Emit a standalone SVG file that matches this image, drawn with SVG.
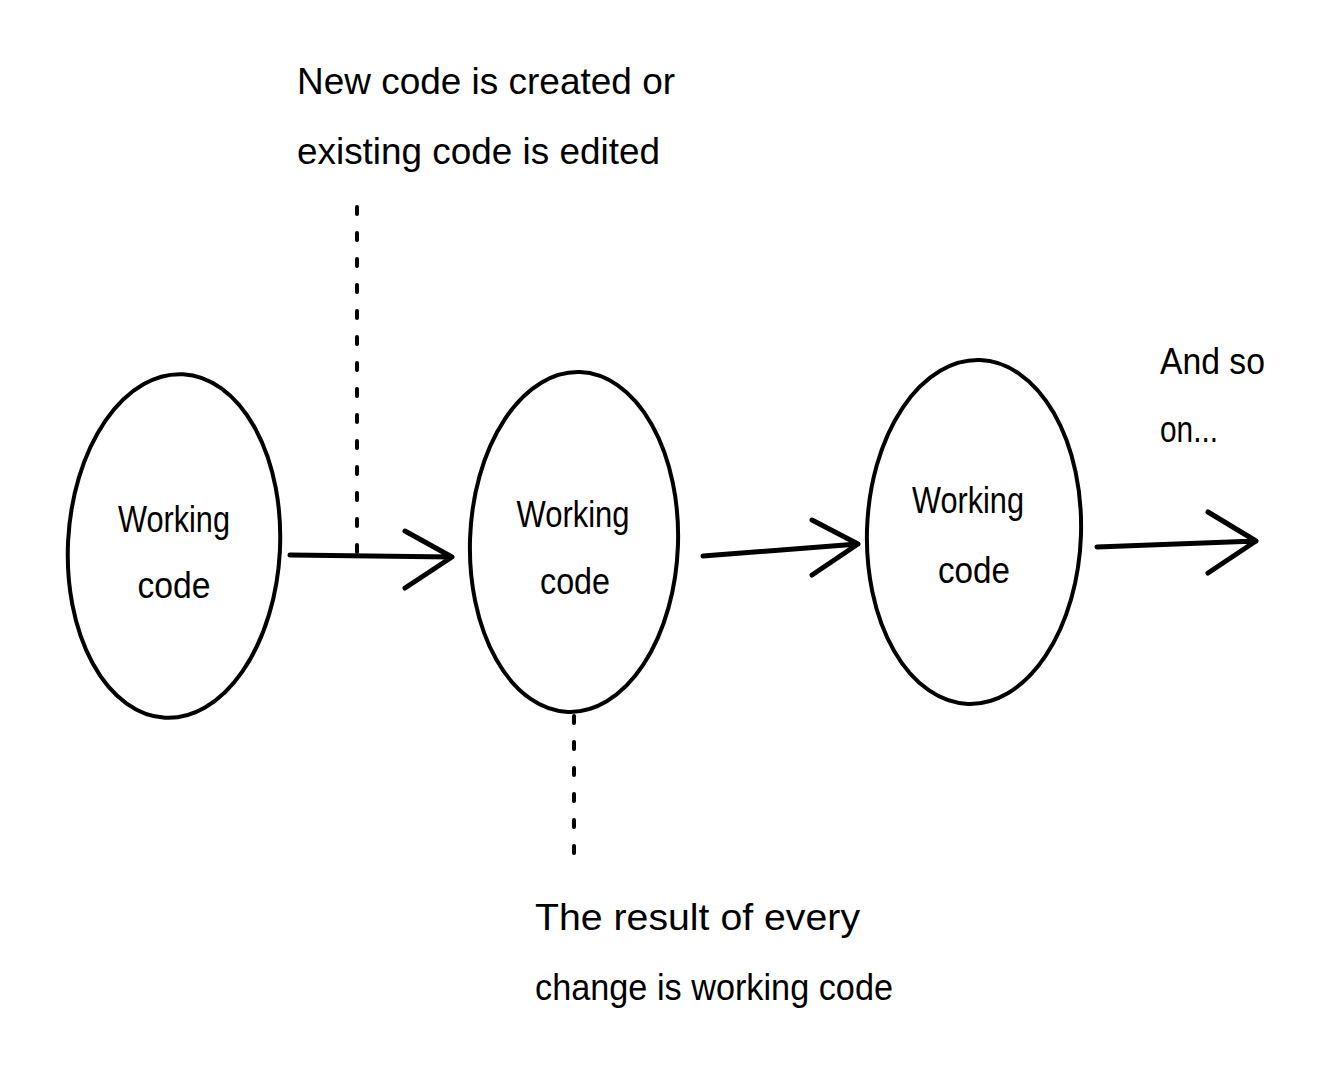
<svg xmlns="http://www.w3.org/2000/svg" width="1339" height="1067" viewBox="0 0 1339 1067">
<style>
  .bg { fill: #ffffff; }
  .node { fill: none; stroke: #000; stroke-width: 4; }
  .lbl { font-family: "Liberation Sans", Arial, sans-serif; font-size: 37px; fill: #000; }
  .arrow { fill: none; stroke: #000; stroke-width: 5; stroke-linecap: round; stroke-linejoin: round; }
  .dots { fill: none; stroke: #000; stroke-width: 4; stroke-linecap: round; stroke-dasharray: 7 19; }
</style>
<rect class="bg" x="0" y="0" width="1339" height="1067"/>

<g id="node1">
  <ellipse class="node" cx="174" cy="546" rx="106" ry="172" transform="rotate(3 174 546)"/>
  <text class="lbl" x="174" y="532" text-anchor="middle" textLength="112" lengthAdjust="spacingAndGlyphs">Working</text>
  <text class="lbl" x="174" y="598" text-anchor="middle" textLength="73" lengthAdjust="spacingAndGlyphs">code</text>
</g>

<g id="node2">
  <ellipse class="node" cx="574" cy="542" rx="104" ry="170" transform="rotate(2 574 542)"/>
  <text class="lbl" x="573" y="527" text-anchor="middle" textLength="113" lengthAdjust="spacingAndGlyphs">Working</text>
  <text class="lbl" x="575" y="594" text-anchor="middle" textLength="70" lengthAdjust="spacingAndGlyphs">code</text>
</g>

<g id="node3">
  <ellipse class="node" cx="974" cy="532" rx="107" ry="172" transform="rotate(2 974 532)"/>
  <text class="lbl" x="968" y="513" text-anchor="middle" textLength="112" lengthAdjust="spacingAndGlyphs">Working</text>
  <text class="lbl" x="974" y="583" text-anchor="middle" textLength="72" lengthAdjust="spacingAndGlyphs">code</text>
</g>

<g id="note-top">
  <text class="lbl" x="297" y="94" textLength="378" lengthAdjust="spacingAndGlyphs">New code is created or</text>
  <text class="lbl" x="297" y="164" textLength="363" lengthAdjust="spacingAndGlyphs">existing code is edited</text>
</g>

<g id="note-bottom">
  <text class="lbl" x="535" y="930" textLength="325" lengthAdjust="spacingAndGlyphs">The result of every</text>
  <text class="lbl" x="535" y="1000" textLength="358" lengthAdjust="spacingAndGlyphs">change is working code</text>
</g>

<g id="note-right">
  <text class="lbl" x="1160" y="374" textLength="105" lengthAdjust="spacingAndGlyphs">And so</text>
  <text class="lbl" x="1160" y="442" textLength="58" lengthAdjust="spacingAndGlyphs">on...</text>
</g>

<g id="connectors">
  <path class="arrow" d="M290 555 L452 557 M405 531 L452 557 L405 588"/>
  <path class="arrow" d="M703 556 L858 544 M812 520 L858 544 L812 575"/>
  <path class="arrow" d="M1097 547 L1256 541 M1208 512 L1256 541 L1208 573"/>
  <path class="dots" d="M357 207 L357 555"/>
  <path class="dots" d="M574 716 L574 856"/>
</g>
</svg>
